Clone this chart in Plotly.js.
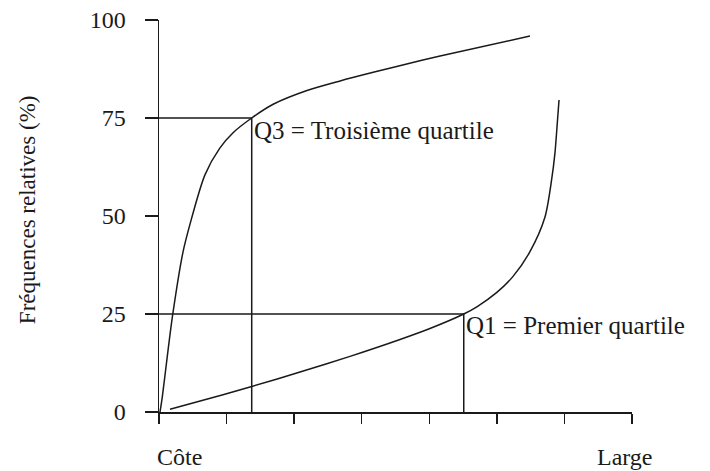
<!DOCTYPE html>
<html>
<head>
<meta charset="utf-8">
<script src="https://cdn.plot.ly/plotly-3.0.1.min.js"></script>
<style>html,body{margin:0;padding:0;background:#fff;}#chart{width:710px;height:471px;}</style>
</head>
<body>
<div id="chart"></div>
<script>
// Cumulative curve reaching Q3 (steep rise on the "Côte" side)
const curveQ3X = [0.015, 0.05, 0.12, 0.20, 0.355, 0.46, 0.68, 0.90, 1.10, 1.372, 1.69, 2.19, 2.68, 3.17, 3.86, 4.16, 5.49];
const curveQ3Y = [0, 4, 13.8, 24.5, 40.8, 48, 60.5, 67.3, 71.3, 75, 78.5, 82, 84.45, 86.65, 89.6, 90.8, 95.9];
// Cumulative curve reaching Q1 (slow rise, steep on the "Large" side)
const curveQ1X = [0.163, 0.947, 1.372, 2.087, 2.827, 3.567, 4.01, 4.51, 4.71, 5.00, 5.24, 5.49, 5.71, 5.81, 5.86, 5.89, 5.92];
const curveQ1Y = [0.7, 4.4, 6.5, 10.2, 14.2, 18.5, 21.3, 25, 26.9, 30.5, 34.6, 40.9, 49.6, 59.2, 66.1, 72.7, 79.6];
// Quartile points
const q3X = 1.372, q3Y = 75;
const q1X = 4.51, q1Y = 25;
// Axis ticks and labels
const xTicks = [0, 1, 2, 3, 4, 5, 6, 7];
const yTicks = [0, 25, 50, 75, 100];
const q3Label = "Q3 = Troisième quartile";
const q1Label = "Q1 = Premier quartile";
const yTitle = "Fréquences relatives (%)";
const xLeftLabel = "Côte";
const xRightLabel = "Large";

const ink = '#1a1a1a';
const serif = 'Liberation Serif, Times New Roman, serif';

const traces = [
  {x: curveQ3X, y: curveQ3Y, mode: 'lines', line: {color: ink, width: 1.5, shape: 'spline', smoothing: 0.8}, hoverinfo: 'skip'},
  {x: curveQ1X, y: curveQ1Y, mode: 'lines', line: {color: ink, width: 1.5, shape: 'spline', smoothing: 0.8}, hoverinfo: 'skip'},
  {x: [0, q3X, q3X], y: [q3Y, q3Y, 0], mode: 'lines', line: {color: ink, width: 1.5}, hoverinfo: 'skip'},
  {x: [0, q1X, q1X], y: [q1Y, q1Y, 0], mode: 'lines', line: {color: ink, width: 1.5}, hoverinfo: 'skip'}
];

const layout = {
  width: 710, height: 471,
  margin: {l: 159, r: 78, t: 20, b: 59},
  paper_bgcolor: '#fff', plot_bgcolor: '#fff',
  showlegend: false,
  font: {family: serif, size: 24, color: ink},
  xaxis: {
    range: [0, 7], tickvals: xTicks, showticklabels: false,
    ticks: 'outside', ticklen: 10, tickwidth: 1.5, tickcolor: ink,
    showline: true, linecolor: ink, linewidth: 1.5,
    showgrid: false, zeroline: false, fixedrange: true
  },
  yaxis: {
    range: [0, 100], tickvals: yTicks,
    ticks: 'outside', ticklen: 13, tickwidth: 1.5, tickcolor: ink,
    ticklabelstandoff: 14,
    tickfont: {family: serif, size: 24, color: ink},
    showline: true, linecolor: ink, linewidth: 1.5,
    showgrid: false, zeroline: false, fixedrange: true
  },
  annotations: [
    {x: q3X, y: q3Y, xref: 'x', yref: 'y', text: q3Label, showarrow: false,
     xanchor: 'left', yanchor: 'middle', xshift: 0, yshift: -12, font: {family: serif, size: 25, color: ink}},
    {x: q1X, y: q1Y, xref: 'x', yref: 'y', text: q1Label, showarrow: false,
     xanchor: 'left', yanchor: 'middle', xshift: 0, yshift: -11, font: {family: serif, size: 25, color: ink}},
    {x: 0, y: -0.115, xref: 'x', yref: 'paper', text: xLeftLabel, showarrow: false,
     xanchor: 'left', yanchor: 'middle', xshift: -4, font: {family: serif, size: 24, color: ink}},
    {x: 6.9, y: -0.115, xref: 'x', yref: 'paper', text: xRightLabel, showarrow: false,
     xanchor: 'center', yanchor: 'middle', xshift: 0, font: {family: serif, size: 24, color: ink}},
    {x: -0.279, y: 0.515, xref: 'paper', yref: 'paper', text: yTitle, showarrow: false,
     textangle: -90, xanchor: 'center', yanchor: 'middle', font: {family: serif, size: 23, color: ink}}
  ]
};

Plotly.newPlot('chart', traces, layout, {displayModeBar: false, staticPlot: true});
</script>
</body>
</html>
